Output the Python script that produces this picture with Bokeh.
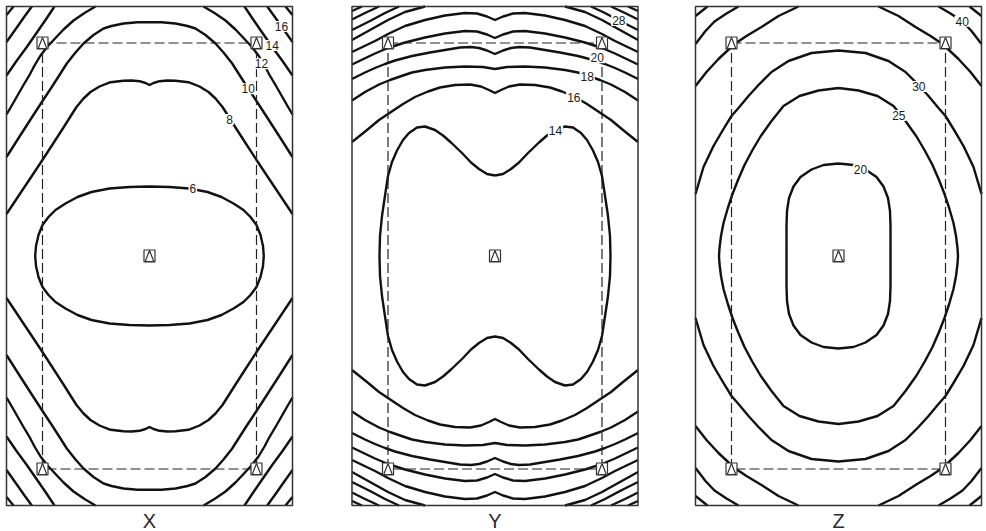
from bokeh.plotting import figure
from bokeh.models import Range1d, Label
from bokeh.embed import file_html
from bokeh.resources import INLINE

# ---------------- data (plot units, origin = central station, y up) ----------------
MAP_HALF_W = 143.0
MAP_HALF_H = 249.5
station_x = [-107, 107, 0, 107, -107]
station_y = [213, 213, 0, -213, -213]

# Panel X : quarter-curves (x >= 0, y >= 0), the maps are symmetric about both axes
x_c6 = [(0, 69.5), (20, 69), (40, 67.5), (58, 64), (72, 59), (84, 52.5), (94, 46), (101, 39),
        (107, 31), (111, 21), (113.5, 10), (114.3, 0)]
x_c8 = [(0, 171), (4, 173), (10, 174.8), (18, 175.5), (26, 175.3), (39, 173.8), (50, 169.5),
        (59, 164), (66, 157.5), (73, 149), (80, 138), (86, 128.5), (96, 113), (109, 93),
        (120, 76.5), (130, 61.5), (143, 42)]
x_c10 = [(0, 233.8), (12, 233.8), (26, 232.5), (38, 230), (46, 227.5), (56, 221), (66, 212.5),
         (74, 203.5), (82.7, 192.5), (90, 181), (97.7, 169), (106, 156.5), (117.7, 138.5),
         (129.3, 120.5), (143, 99)]
x_c12 = [(54, 249.5), (65, 243), (76, 235.5), (86, 226.5), (94, 218), (102, 209.5), (109, 200.5),
         (115, 190.5), (120, 181), (126, 171), (132, 160.5), (138, 150), (143, 141.5)]
x_c14 = [(95, 249.5), (104, 236), (113, 223), (122.7, 209), (133, 195), (143, 180.5)]
x_c16 = [(117.7, 249.5), (125, 239.5), (132, 229.5), (143, 214)]
x_c18 = [(136, 249.5), (143, 241)]
x_label_text = ["6", "8", "10", "12", "14", "16"]
x_label_x = [43.3, 80, 98.7, 112, 122.7, 132]
x_label_y = [67.2, 136.5, 167.2, 192.2, 210.5, 229.5]

# Panel Y
y_c14 = [(0, 80.5), (8, 82), (16, 87), (24, 93.5), (33, 103), (44, 113.5), (52, 120.5), (60, 126),
         (70, 129.5), (78, 128.5), (86, 123), (92, 116), (98, 105.5), (103, 94), (107, 80),
         (110.5, 57), (113, 40), (115, 20), (115.5, 0)]
y_c16 = [(0, 163), (6, 166), (14, 169.5), (25, 171.5), (40, 171), (55, 168.5), (67, 164.5),
         (80, 159), (92, 152), (104, 144), (116, 136), (128, 126), (143, 114)]
y_c18 = [(0, 187), (12, 189), (30, 189.5), (50, 188.5), (70, 186), (83, 183.5), (92, 180.5),
         (105, 176), (116, 171.5), (130, 164), (143, 155.5)]
y_c20 = [(0, 202), (8, 205.5), (16, 208), (24, 209), (35, 208.5), (50, 206), (65, 203.5),
         (83, 200), (100, 195.5), (110, 192), (120, 188), (130, 183.5), (143, 177)]
y_c22 = [(0, 218), (8, 221.5), (18, 224.5), (30, 225), (50, 222.5), (70, 218.5), (90, 213.5),
         (107, 208), (120, 202.5), (143, 191.5)]
y_c24 = [(0, 236), (8, 239.5), (18, 242.5), (30, 243), (50, 240.5), (70, 236), (90, 230),
         (107, 222), (120, 215), (143, 204)]
y_c26 = [(70, 249.5), (90, 244), (107, 236), (125, 226), (143, 216)]
y_c28 = [(96, 249.5), (110, 243), (124, 235.5), (143, 226)]
y_c30 = [(116, 249.5), (130, 243), (143, 236.5)]
y_c32 = [(133, 249.5), (143, 245)]
y_label_text = ["14", "16", "18", "20", "28"]
y_label_x = [60.5, 78.8, 92.2, 102.2, 123.8]
y_label_y = [125.5, 158.8, 179.5, 198.2, 235.5]

# Panel Z
z_c20 = [(0, 92.5), (15, 91), (27, 86.5), (38, 79), (45, 69.5), (49.5, 58), (51.5, 45), (52, 30),
         (52, 15), (52, 0)]
z_c25 = [(0, 168), (20, 165.5), (39, 160), (55, 150), (67, 135), (78, 119.5), (86, 106), (94, 91),
         (100.5, 76), (106, 62), (110.5, 48.5), (115, 33), (117.5, 20), (119, 8), (119.5, 0)]
z_c30 = [(0, 205.5), (27, 203), (50, 195), (67, 184), (80, 171), (90, 160), (100, 148), (107, 140),
         (115, 127), (125, 110), (135, 89), (143, 62)]
z_c35 = [(40, 249.5), (60, 240), (77, 229), (92, 220), (104, 212), (120, 197), (132, 184), (143, 170)]
z_c40 = [(100, 249.5), (112, 242.5), (124, 234.5), (133, 225), (143, 212)]
z_c45 = [(131, 249.5), (143, 240)]
z_label_text = ["20", "25", "30", "40"]
z_label_x = [22, 60.3, 80.3, 123.7]
z_label_y = [86.2, 140.5, 169.5, 234.8]

panel_names = ["X", "Y", "Z"]

# ---------------- layout / style ----------------
PANEL_CENTER_X = [149, 494.5, 838]
NAME_Y = -264.5
LINE_COLOR = "#111111"
FRAME_COLOR = "#333333"
DASH_COLOR = "#222222"

panels = [
    (panel_names[0], [x_c6, x_c8, x_c10, x_c12, x_c14, x_c16, x_c18], x_label_text, x_label_x, x_label_y),
    (panel_names[1], [y_c14, y_c16, y_c18, y_c20, y_c22, y_c24, y_c26, y_c28, y_c30, y_c32],
     y_label_text, y_label_x, y_label_y),
    (panel_names[2], [z_c20, z_c25, z_c30, z_c35, z_c40, z_c45], z_label_text, z_label_x, z_label_y),
]


def expand(q):
    """Mirror a first-quadrant curve into the full, symmetric contour pieces."""
    q = list(q)
    if q[0][0] == 0 and q[-1][1] == 0:          # closed curve
        right = q + [(x, -y) for x, y in reversed(q[:-1])]
        left = [(-x, y) for x, y in reversed(right[1:-1])]
        return [right + left + [right[0]]]
    if q[0][0] == 0:                              # upper and lower arches
        top = [(-x, y) for x, y in reversed(q[1:])] + q
        return [top, [(x, -y) for x, y in top]]
    return [[(sx * x, sy * y) for x, y in q] for sx in (1, -1) for sy in (1, -1)]


p = figure(width=986, height=531, x_range=Range1d(0, 986), y_range=Range1d(-275.5, 255.5),
           x_axis_type=None, y_axis_type=None, output_backend="svg", toolbar_location=None,
           min_border=0, outline_line_color=None, background_fill_color="white",
           border_fill_color="white")
p.grid.visible = False

for (name, curves, ltxt, lx, ly), cx in zip(panels, PANEL_CENTER_X):
    xs, ys = [], []
    for q in curves:
        for piece in expand(q):
            xs.append([cx + x for x, _ in piece])
            ys.append([y for _, y in piece])
    p.multi_line(xs, ys, line_color=LINE_COLOR, line_width=2.4, line_join="round")

    # dashed network outline through corner stations
    order = [0, 1, 3, 4, 0]
    p.line([cx + station_x[i] for i in order], [station_y[i] for i in order],
           line_color=DASH_COLOR, line_width=1.2, line_dash="10 4")

    # map frame
    p.rect(x=[cx], y=[0], width=2 * MAP_HALF_W, height=2 * MAP_HALF_H,
           fill_color=None, line_color=FRAME_COLOR, line_width=1.5)

    # stations: square with triangle
    sxs = [cx + s for s in station_x]
    p.rect(x=sxs, y=station_y, width=11, height=12, fill_color="white",
           line_color=FRAME_COLOR, line_width=1.2)
    p.patches([[sx - 4.3, sx + 4.3, sx] for sx in sxs],
              [[sy - 5.5, sy - 5.5, sy + 5.5] for sy in station_y],
              fill_color="white", line_color=FRAME_COLOR, line_width=1.2)

    # contour labels
    for t, x, y in zip(ltxt, lx, ly):
        p.add_layout(Label(x=cx + x, y=y, text=t, text_align="center", text_baseline="middle",
                           text_font="Liberation Sans", text_font_size="12px",
                           text_color="#1a1a1a", background_fill_color="white",
                           padding=1))

    p.add_layout(Label(x=cx, y=NAME_Y, text=name, text_align="center", text_baseline="middle",
                       text_font="Liberation Sans", text_font_size="20px", text_color="#2a2a2a"))

open("out.html", "w").write(file_html(p, INLINE))
